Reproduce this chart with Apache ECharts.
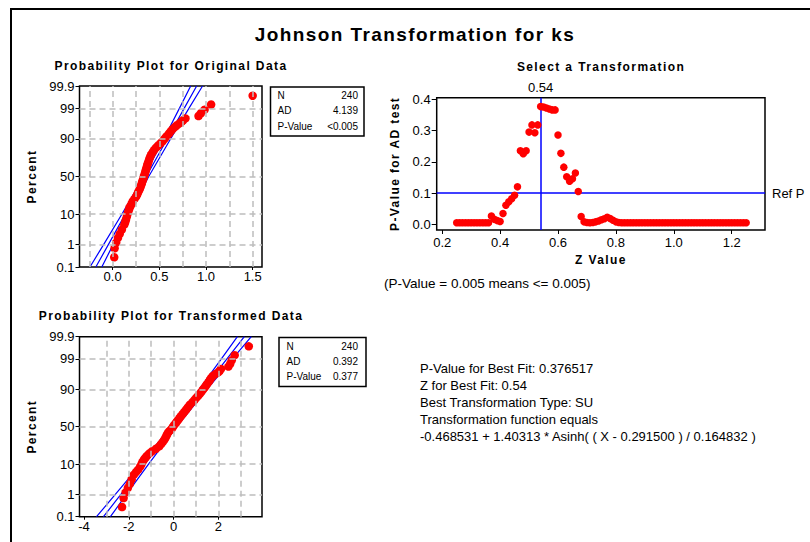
<!DOCTYPE html>
<html><head><meta charset="utf-8">
<script src="https://cdn.jsdelivr.net/npm/echarts@6/dist/echarts.min.js"></script>
<style>
html,body{margin:0;padding:0;background:#fff;}
#c{width:810px;height:542px;}
#c text[style*="bold"]{letter-spacing:1.4px;}
#c text[font-weight="bold"]{letter-spacing:1.4px;}
</style></head><body><div id="c"></div>
<script>
// ---------- data ----------
const pctTicks = [0.1, 1, 10, 50, 90, 99, 99.9];
const pctTickLabels = ['0.1', '1', '10', '50', '90', '99', '99.9'];
const pctGrid = [1, 10, 50, 90, 99];

const rankPct = [0.29, 0.71, 1.2, 1.8, 2.5, 3.5, 5, 6, 7, 8.5, 10, 11.5, 13, 14.5, 16, 18, 20, 22.5, 25, 27.5,
  30, 32.5, 35, 37.5, 40, 42.5, 45, 47.5, 50, 52.5, 55, 57.5, 60, 62.5, 65, 67.5, 70, 72.5, 75, 77.5,
  80, 82, 84, 85.5, 87, 88.5, 90, 91, 92, 93, 94, 94.8, 95.5, 96, 96.5, 96.9, 97.2, 97.63, 98.05, 98.46,
  98.88, 99.30, 99.71];

const origX = [0.017, 0.021, 0.038, 0.057, 0.076, 0.099, 0.125, 0.135, 0.143, 0.152, 0.159, 0.167, 0.176, 0.182,
  0.194, 0.206, 0.216, 0.236, 0.253, 0.265, 0.275, 0.286, 0.295, 0.303, 0.311, 0.316, 0.323, 0.330, 0.335,
  0.342, 0.348, 0.353, 0.359, 0.365, 0.371, 0.378, 0.386, 0.393, 0.403, 0.414, 0.431, 0.447, 0.468, 0.488,
  0.511, 0.534, 0.555, 0.570, 0.588, 0.606, 0.626, 0.645, 0.668, 0.689, 0.716, 0.737, 0.753, 0.78, 0.92,
  0.945, 0.985, 1.055, 1.50];

const transX = [-2.30, -2.23, -2.14, -2.04, -1.95, -1.87, -1.77, -1.67, -1.58, -1.49, -1.43, -1.38, -1.32, -1.25,
  -1.18, -1.08, -0.955, -0.78, -0.64, -0.56, -0.48, -0.415, -0.365, -0.32, -0.285, -0.23, -0.155, -0.075, -0.02,
  0.03, 0.10, 0.16, 0.225, 0.285, 0.355, 0.43, 0.50, 0.575, 0.645, 0.73, 0.845, 0.93, 1.02, 1.095, 1.17, 1.25,
  1.32, 1.385, 1.44, 1.51, 1.585, 1.64, 1.70, 1.77, 1.88, 1.99, 2.05, 2.12, 2.45, 2.53, 2.60, 2.73, 3.36];

const bandPct = [0.1, 1, 10, 50, 90, 99, 99.9];
const origFitX = [-0.18, -0.046, 0.136, 0.36, 0.584, 0.766, 0.90];
const origLowX = [-0.243, -0.097, 0.100, 0.3335, 0.548, 0.715, 0.836];
const origHighX = [-0.116, 0.005, 0.172, 0.3865, 0.620, 0.817, 0.963];
const transFitX = [-3.13, -2.353, -1.29, 0.015, 1.32, 2.383, 3.161];
const transLowX = [-3.44, -2.60, -1.464, -0.114, 1.146, 2.135, 2.851];
const transHighX = [-2.82, -2.105, -1.116, 0.144, 1.494, 2.631, 3.471];

const origXTicks = [0, 0.5, 1.0, 1.5];
const origXGrid = [-0.25, 0, 0.25, 0.5, 0.75, 1.0, 1.25, 1.5];
const transXTicks = [-4, -2, 0, 2];
const transXGrid = [-3, -2, -1, 0, 1, 2, 3];

const zValues = [0.25, 0.26, 0.27, 0.28, 0.29, 0.30, 0.31, 0.32, 0.33, 0.34, 0.35, 0.36, 0.37, 0.38, 0.39,
  0.40, 0.41, 0.42, 0.43, 0.44, 0.45, 0.46, 0.47, 0.48, 0.49, 0.50, 0.51, 0.52, 0.53, 0.54, 0.55, 0.56, 0.57,
  0.58, 0.59, 0.60, 0.61, 0.62, 0.63, 0.64, 0.65, 0.66, 0.67, 0.68, 0.69, 0.70, 0.71, 0.72, 0.73, 0.74, 0.75,
  0.76, 0.77, 0.78, 0.79, 0.80, 0.81, 0.82, 0.83, 0.84, 0.85, 0.86, 0.87, 0.88, 0.89, 0.90, 0.91, 0.92, 0.93,
  0.94, 0.95, 0.96, 0.97, 0.98, 0.99, 1.00, 1.01, 1.02, 1.03, 1.04, 1.05, 1.06, 1.07, 1.08, 1.09, 1.10, 1.11,
  1.12, 1.13, 1.14, 1.15, 1.16, 1.17, 1.18, 1.19, 1.20, 1.21, 1.22, 1.23, 1.24, 1.25];
const pValues = [0.005, 0.005, 0.005, 0.005, 0.005, 0.005, 0.005, 0.005, 0.005, 0.005, 0.005, 0.005, 0.027, 0.016, 0.012,
  0.009, 0.035, 0.061, 0.072, 0.082, 0.093, 0.12, 0.235, 0.226, 0.235, 0.295, 0.318, 0.293, 0.318, 0.3765, 0.375, 0.372, 0.369,
  0.366, 0.366, 0.286, 0.227, 0.183, 0.152, 0.138, 0.146, 0.164, 0.105, 0.025, 0.008, 0.006, 0.005, 0.006, 0.008, 0.011, 0.015,
  0.018, 0.023, 0.019, 0.013, 0.008, 0.006, 0.005, 0.005, 0.005, 0.005, 0.005, 0.005, 0.005, 0.005, 0.005, 0.005, 0.005, 0.005,
  0.005, 0.005, 0.005, 0.005, 0.005, 0.005, 0.005, 0.005, 0.005, 0.005, 0.005, 0.005, 0.005, 0.005, 0.005, 0.005, 0.005, 0.005,
  0.005, 0.005, 0.005, 0.005, 0.005, 0.005, 0.005, 0.005, 0.005, 0.005, 0.005, 0.005, 0.005, 0.005];
const zXTicks = [0.2, 0.4, 0.6, 0.8, 1.0, 1.2];
const pYTicks = [0.0, 0.1, 0.2, 0.3, 0.4];
const bestZ = 0.54;
const refP = 0.1;

const origStats = [['N', '240'], ['AD', '4.139'], ['P-Value', '<0.005']];
const transStats = [['N', '240'], ['AD', '0.392'], ['P-Value', '0.377']];
const bestFitLines = ['P-Value for Best Fit: 0.376517', 'Z for Best Fit: 0.54', 'Best Transformation Type: SU',
  'Transformation function equals', '-0.468531 + 1.40313 * Asinh( ( X - 0.291500 ) / 0.164832 )'];
const noteText = '(P-Value = 0.005 means <= 0.005)';

// ---------- normal probability scale ----------
function normInv(p) {
  const a = [-3.969683028665376e+01, 2.209460984245205e+02, -2.759285104469687e+02, 1.383577518672690e+02, -3.066479806614716e+01, 2.506628277459239e+00];
  const b = [-5.447609879822406e+01, 1.615858368580409e+02, -1.556989798598866e+02, 6.680131188771972e+01, -1.328068155288572e+01];
  const c = [-7.784894002430293e-03, -3.223964580411365e-01, -2.400758277161838e+00, -2.549732539343734e+00, 4.374664141464968e+00, 2.938163982698783e+00];
  const d = [7.784695709041462e-03, 3.224671290700398e-01, 2.445134137142996e+00, 3.754408661907416e+00];
  const pl = 0.02425, ph = 1 - pl; let q, r;
  if (p < pl) { q = Math.sqrt(-2 * Math.log(p)); return (((((c[0]*q+c[1])*q+c[2])*q+c[3])*q+c[4])*q+c[5]) / ((((d[0]*q+d[1])*q+d[2])*q+d[3])*q+1); }
  if (p <= ph) { q = p - 0.5; r = q * q; return (((((a[0]*r+a[1])*r+a[2])*r+a[3])*r+a[4])*r+a[5])*q / (((((b[0]*r+b[1])*r+b[2])*r+b[3])*r+b[4])*r+1); }
  q = Math.sqrt(-2 * Math.log(1 - p)); return -(((((c[0]*q+c[1])*q+c[2])*q+c[3])*q+c[4])*q+c[5]) / ((((d[0]*q+d[1])*q+d[2])*q+d[3])*q+1);
}
const zOf = pct => normInv(pct / 100);
const zTicks = pctTicks.map(zOf);
const zMin = zOf(0.1), zMax = zOf(99.9);

// ---------- styles ----------
const FONT = '"Liberation Sans", Arial, sans-serif';
const RED = '#ff0000', BLUE = '#0000ff';
const gridLineStyle = { color: '#bdbdbd', width: 1.5, type: [6, 4] };

function pctFormatter(v) {
  for (let i = 0; i < zTicks.length; i++) if (Math.abs(zTicks[i] - v) < 1e-6) return pctTickLabels[i];
  return '';
}

function probYAxis(gi) {
  return {
    gridIndex: gi, type: 'value', min: zMin, max: zMax,
    axisLine: { show: false, onZero: false }, splitLine: { show: false },
    axisTick: { show: true, customValues: zTicks, length: 4, lineStyle: { color: '#000', width: 1 } },
    axisLabel: { customValues: zTicks, formatter: pctFormatter, margin: 5, fontSize: 13, color: '#000', fontFamily: FONT },
    name: 'Percent', nameLocation: 'middle', nameGap: 42,
    nameTextStyle: { fontWeight: 'bold', fontSize: 12, color: '#000', fontFamily: FONT }
  };
}
function probXAxis(gi, min, max, ticks, fmt) {
  return {
    gridIndex: gi, type: 'value', min: min, max: max,
    axisLine: { show: false, onZero: false }, splitLine: { show: false },
    axisTick: { show: true, customValues: ticks, length: 3, lineStyle: { color: '#000', width: 1 } },
    axisLabel: { customValues: ticks, formatter: fmt, margin: 3, fontSize: 13, color: '#000', fontFamily: FONT }
  };
}
function gridLinesSeries(gi, xs) {
  return {
    type: 'scatter', xAxisIndex: gi, yAxisIndex: gi, data: [], z: 1, silent: true,
    markLine: {
      silent: true, symbol: ['none', 'none'], label: { show: false }, lineStyle: gridLineStyle, animation: false,
      data: xs.map(v => ({ xAxis: v })).concat(pctGrid.map(p => ({ yAxis: zOf(p) })))
    }
  };
}
function bandSeries(gi, xs, w) {
  return {
    type: 'line', xAxisIndex: gi, yAxisIndex: gi, showSymbol: false, symbol: 'none', z: 2, silent: true,
    lineStyle: { color: BLUE, width: w }, data: xs.map((x, i) => [x, zOf(bandPct[i])])
  };
}
function pointSeries(gi, xs) {
  return {
    type: 'scatter', xAxisIndex: gi, yAxisIndex: gi, symbol: 'circle', symbolSize: 8.5, z: 3,
    itemStyle: { color: RED, opacity: 1 }, data: xs.map((x, i) => [x, zOf(rankPct[i])])
  };
}
function statsBox(x, y, w, h, textLeft, textRight, rows) {
  const els = [{ type: 'rect', shape: { x: x, y: y, width: w, height: h }, style: { fill: '#fff', stroke: '#000', lineWidth: 1.5 }, silent: true }];
  rows.forEach((r, i) => {
    const cy = y + 8.7 + i * 15.2;
    els.push({ type: 'text', x: textLeft, y: cy, style: { text: r[0], font: '10px ' + FONT, fill: '#000', textAlign: 'left', textVerticalAlign: 'middle', verticalAlign: 'middle' }, silent: true });
    els.push({ type: 'text', x: textRight, y: cy, style: { text: r[1], font: '10px ' + FONT, fill: '#000', textAlign: 'right', textVerticalAlign: 'middle', verticalAlign: 'middle' }, silent: true });
  });
  return els;
}

const titleStyle = (size) => ({ fontSize: size, fontWeight: 'bold', color: '#000', fontFamily: FONT });

const option = {
  animation: false,
  backgroundColor: '#fff',
  title: [
    { text: 'Johnson Transformation for ks', left: 415, top: 25, textAlign: 'center', padding: 0, textStyle: titleStyle(19) },
    { text: 'Probability Plot for Original Data', left: 171, top: 60, textAlign: 'center', padding: 0, textStyle: titleStyle(12) },
    { text: 'Select a Transformation', left: 601, top: 61, textAlign: 'center', padding: 0, textStyle: titleStyle(12) },
    { text: 'Probability Plot for Transformed Data', left: 171, top: 310, textAlign: 'center', padding: 0, textStyle: titleStyle(12) }
  ],
  grid: [
    { left: 79.5, top: 86, width: 182.5, height: 181, show: true, borderColor: '#000', borderWidth: 1.5, containLabel: false, outerBoundsMode: 'none' },
    { left: 436.7, top: 97.7, width: 328.3, height: 132.3, show: true, borderColor: '#000', borderWidth: 1.5, containLabel: false, outerBoundsMode: 'none' },
    { left: 79.5, top: 336.7, width: 182.5, height: 180, show: true, borderColor: '#000', borderWidth: 1.5, containLabel: false, outerBoundsMode: 'none' }
  ],
  xAxis: [
    probXAxis(0, -0.355, 1.6, origXTicks, v => v.toFixed(1)),
    {
      gridIndex: 1, type: 'value', min: 0.181, max: 1.315,
      axisLine: { show: false, onZero: false }, splitLine: { show: false },
      axisTick: { show: true, customValues: zXTicks, length: 4, lineStyle: { color: '#000', width: 1 } },
      axisLabel: { customValues: zXTicks, formatter: v => v.toFixed(1), margin: 6, fontSize: 13, color: '#000', fontFamily: FONT },
      name: 'Z Value', nameLocation: 'middle', nameGap: 24,
      nameTextStyle: { fontWeight: 'bold', fontSize: 12, color: '#000', fontFamily: FONT }
    },
    probXAxis(2, -4.2, 3.95, transXTicks, v => String(v))
  ],
  yAxis: [
    probYAxis(0),
    {
      gridIndex: 1, type: 'value', min: -0.018, max: 0.405,
      axisLine: { show: false, onZero: false }, splitLine: { show: false },
      axisTick: { show: true, customValues: pYTicks, length: 5, lineStyle: { color: '#000', width: 1 } },
      axisLabel: { customValues: pYTicks, formatter: v => v.toFixed(1), margin: 6, fontSize: 13, color: '#000', fontFamily: FONT },
      name: 'P-Value for AD test', nameLocation: 'middle', nameGap: 36,
      nameTextStyle: { fontWeight: 'bold', fontSize: 12, color: '#000', fontFamily: FONT }
    },
    probYAxis(2)
  ],
  series: [
    gridLinesSeries(0, origXGrid),
    bandSeries(0, origLowX, 1.2), bandSeries(0, origFitX, 1.2), bandSeries(0, origHighX, 1.2),
    pointSeries(0, origX),
    {
      type: 'scatter', xAxisIndex: 1, yAxisIndex: 1, symbol: 'circle', symbolSize: 7.5, z: 3,
      itemStyle: { color: RED, opacity: 1 },
      data: zValues.map((z, i) => [z, pValues[i]]),
      markLine: {
        silent: true, symbol: ['none', 'none'], animation: false, z: 2,
        lineStyle: { color: BLUE, width: 1.5, type: 'solid' },
        data: [
          { xAxis: bestZ, label: { show: true, position: 'end', formatter: '0.54', distance: 4, fontSize: 13, color: '#000', fontFamily: FONT } },
          { yAxis: refP, label: { show: true, position: 'end', formatter: 'Ref P', distance: 7, fontSize: 13, color: '#000', fontFamily: FONT } }
        ]
      }
    },
    gridLinesSeries(2, transXGrid),
    bandSeries(2, transLowX, 1.2), bandSeries(2, transFitX, 1.2), bandSeries(2, transHighX, 1.2),
    pointSeries(2, transX)
  ],
  graphic: [
    { type: 'rect', shape: { x: 11, y: 9, width: 830, height: 560 }, style: { fill: 'none', stroke: '#000', lineWidth: 2 }, silent: true, z: 100 }
  ].concat(
    statsBox(270.5, 87, 93.5, 49, 277.5, 358, origStats),
    statsBox(279, 337.5, 87, 49, 286.5, 358, transStats),
    [
      { type: 'text', x: 420, y: 359.5, style: { text: bestFitLines.join('\n'), font: '13px ' + FONT, lineHeight: 17.2, fill: '#000', textAlign: 'left', textVerticalAlign: 'top', verticalAlign: 'top' }, silent: true },
      { type: 'text', x: 384, y: 283.3, style: { text: noteText, font: '13.5px ' + FONT, fill: '#000', textAlign: 'left', textVerticalAlign: 'middle', verticalAlign: 'middle' }, silent: true }
    ]
  )
};

const chart = echarts.init(document.getElementById('c'), null, { renderer: 'svg', width: 810, height: 542 });
chart.setOption(option);
</script></body></html>
